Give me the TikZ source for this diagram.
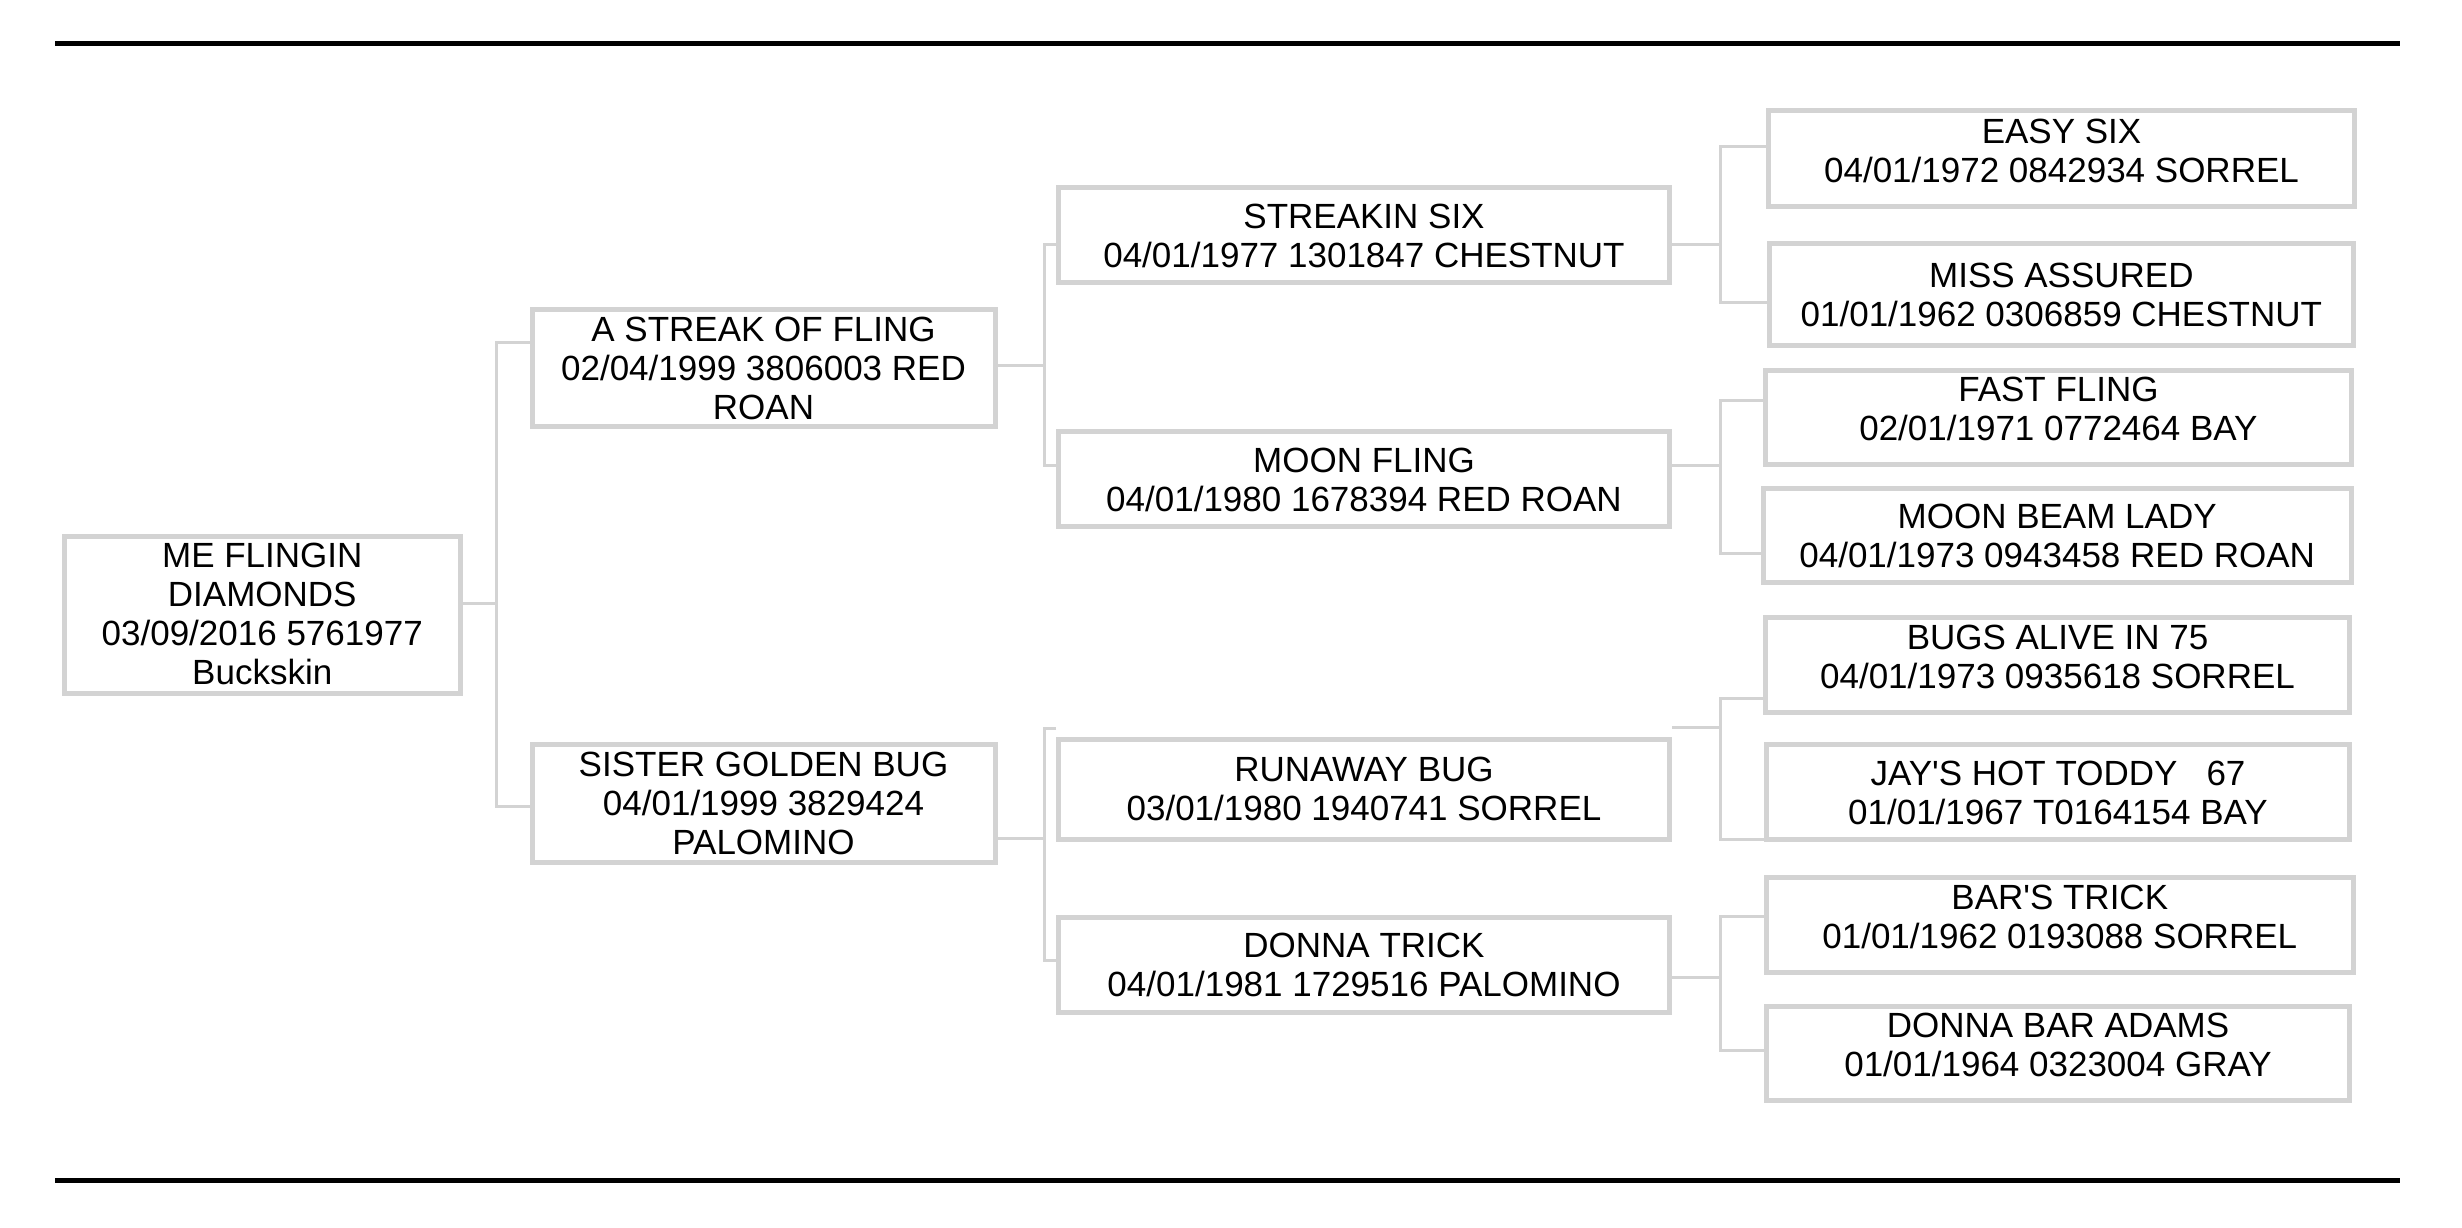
\documentclass[tikz,border=0pt]{standalone}
\usepackage{fontspec}
\newfontfamily\pedfont{Liberation Sans}
\definecolor{boxgray}{RGB}{211,211,211}
\newcommand\pedlines[1]{\vtop{\halign{\hfil##\hfil\cr#1\crcr}}}
\begin{document}
\begin{tikzpicture}[x=1pt,y=-1pt,
  pbox/.style={draw=boxgray,line width=5pt,inner sep=0pt,fill=white},
  ptext/.style={inner sep=0pt,anchor=base,font=\pedfont\fontsize{35}{39}\selectfont},
  conn/.style={draw=boxgray,line width=3pt},
  rulebar/.style={draw=black,line width=5pt}]
\useasboundingbox (0,0) rectangle (2462,1228);
% rules
\draw[rulebar] (55,43.4) -- (2400,43.4);
\draw[rulebar] (55,1180) -- (2400,1180);
% boxes
\node[pbox,minimum width=396.5pt,minimum height=156.7pt] (root) at (262.25,614.85) {};
\node[pbox,minimum width=463pt,minimum height=117.5pt] (s) at (763.5,367.75) {};
\node[pbox,minimum width=463pt,minimum height=118pt] (d) at (763.5,803) {};
\node[pbox,minimum width=611pt,minimum height=94.7pt] (ss) at (1364,235.15) {};
\node[pbox,minimum width=611pt,minimum height=95pt] (sd) at (1364,479) {};
\node[pbox,minimum width=611pt,minimum height=99.5pt] (ds) at (1364,789.25) {};
\node[pbox,minimum width=611pt,minimum height=94.5pt] (dd) at (1364,964.75) {};
\node[pbox,minimum width=586pt,minimum height=96pt] (sss) at (2061.5,158.8) {};
\node[pbox,minimum width=584.3pt,minimum height=102.3pt] (ssd) at (2061.35,294.35) {};
\node[pbox,minimum width=585.3pt,minimum height=93.4pt] (sds) at (2058.45,417.5) {};
\node[pbox,minimum width=587.9pt,minimum height=94.5pt] (sdd) at (2057.15,535.35) {};
\node[pbox,minimum width=584pt,minimum height=94.3pt] (dss) at (2057.5,664.85) {};
\node[pbox,minimum width=583pt,minimum height=95pt] (dsd) at (2058,791.8) {};
\node[pbox,minimum width=586.5pt,minimum height=94.5pt] (dds) at (2059.75,924.75) {};
\node[pbox,minimum width=583pt,minimum height=94.5pt] (ddd) at (2058,1053.25) {};
% texts
\node[ptext] (troot) at (262.25,567) {\pedlines{ME FLINGIN\cr DIAMONDS\cr 03/09/2016 5761977\cr Buckskin}};
\node[ptext] (ts) at (763.5,341.7) {\pedlines{A STREAK OF FLING\cr 02/04/1999 3806003 RED\cr ROAN}};
\node[ptext] (td) at (763.5,776.5) {\pedlines{SISTER GOLDEN BUG\cr 04/01/1999 3829424\cr PALOMINO}};
\node[ptext] (tss) at (1364,228) {\pedlines{STREAKIN SIX\cr 04/01/1977 1301847 CHESTNUT}};
\node[ptext] (tsd) at (1364,472.1) {\pedlines{MOON FLING\cr 04/01/1980 1678394 RED ROAN}};
\node[ptext] (tds) at (1364,781.5) {\pedlines{RUNAWAY BUG\cr 03/01/1980 1940741 SORREL}};
\node[ptext] (tdd) at (1364,957.9) {\pedlines{DONNA TRICK\cr 04/01/1981 1729516 PALOMINO}};
\node[ptext] (tsss) at (2061.5,143.3) {\pedlines{EASY SIX\cr 04/01/1972 0842934 SORREL}};
\node[ptext] (tssd) at (2061.35,287.3) {\pedlines{MISS ASSURED\cr 01/01/1962 0306859 CHESTNUT}};
\node[ptext] (tsds) at (2058.45,401) {\pedlines{FAST FLING\cr 02/01/1971 0772464 BAY}};
\node[ptext] (tsdd) at (2057.15,528.3) {\pedlines{MOON BEAM LADY\cr 04/01/1973 0943458 RED ROAN}};
\node[ptext] (tdss) at (2057.5,649.7) {\pedlines{BUGS ALIVE IN 75\cr 04/01/1973 0935618 SORREL}};
\node[ptext] (tdsd) at (2058,785.1) {\pedlines{JAY'S HOT TODDY\ \ \ 67\cr 01/01/1967 T0164154 BAY}};
\node[ptext] (tdds) at (2059.75,909) {\pedlines{BAR'S TRICK\cr 01/01/1962 0193088 SORREL}};
\node[ptext] (tddd) at (2058,1037.8) {\pedlines{DONNA BAR ADAMS\cr 01/01/1964 0323004 GRAY}};
% junction coordinates
\coordinate (jr) at (496,603);   \coordinate (jra) at (496,342);   \coordinate (jrb) at (496,806);
\coordinate (js) at (1044.5,365.5); \coordinate (jsa) at (1044.5,244); \coordinate (jsb) at (1044.5,465.3);
\coordinate (jd) at (1044.5,838.7); \coordinate (jda) at (1044.5,728); \coordinate (jdb) at (1044.5,960.4);
\coordinate (jss) at (1720,244.3); \coordinate (jssa) at (1720,146.7); \coordinate (jssb) at (1720,302.7);
\coordinate (jsd) at (1720,465.2); \coordinate (jsda) at (1720,400.4); \coordinate (jsdb) at (1720,553);
\coordinate (jds) at (1720,727.5); \coordinate (jdsa) at (1720,698.4); \coordinate (jdsb) at (1720,839.4);
\coordinate (jdd) at (1720,977);   \coordinate (jdda) at (1720,916.5); \coordinate (jddb) at (1720,1050);
% connectors
\begin{scope}[on background layer/.style={}]
\draw[conn] (root.east |- jr) -- (jr);
\draw[conn] (jra -| s.west) -- (jra) -- (jrb) -- (jrb -| d.west);
\draw[conn] (s.east |- js) -- (js);
\draw[conn] (jsa -| ss.west) -- (jsa) -- (jsb) -- (jsb -| sd.west);
\draw[conn] (d.east |- jd) -- (jd);
\draw[conn] (jda -| ds.west) -- (jda) -- (jdb) -- (jdb -| dd.west);
\draw[conn] (ss.east |- jss) -- (jss);
\draw[conn] (jssa -| sss.west) -- (jssa) -- (jssb) -- (jssb -| ssd.west);
\draw[conn] (sd.east |- jsd) -- (jsd);
\draw[conn] (jsda -| sds.west) -- (jsda) -- (jsdb) -- (jsdb -| sdd.west);
\draw[conn] (ds.east |- jds) -- (jds);
\draw[conn] (jdsa -| dss.west) -- (jdsa) -- (jdsb) -- (jdsb -| dsd.west);
\draw[conn] (dd.east |- jdd) -- (jdd);
\draw[conn] (jdda -| dds.west) -- (jdda) -- (jddb) -- (jddb -| ddd.west);
\end{scope}
\end{tikzpicture}
\end{document}
